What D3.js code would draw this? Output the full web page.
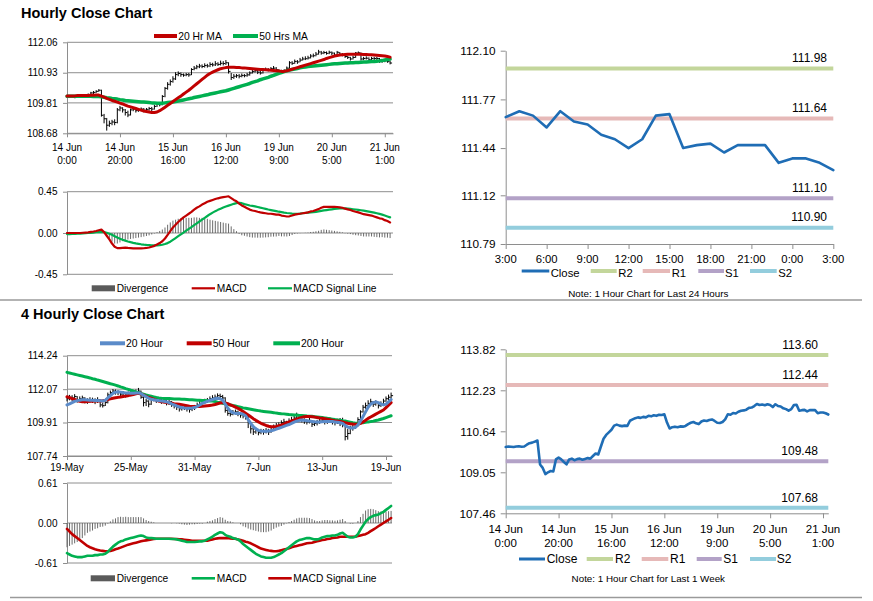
<!DOCTYPE html>
<html><head><meta charset="utf-8">
<script src="https://cdn.jsdelivr.net/npm/d3@7"></script>
<style>body{margin:0;background:#fff}svg{display:block}</style>
</head><body><svg id="chart" width="873" height="601"></svg>
<script>
// ---------------- DATA: hourly (14 Jun 0:00 .. 21 Jun 3:00) ----------------
const hourlyClose = [
110.03,110.05,110.04,110.03,110.05,110.06,110.04,110.05,110.12,110.18,
110.20,110.24,110.28,109.35,109.22,108.98,109.05,109.10,109.08,109.55,
109.62,109.55,109.45,109.36,109.55,109.58,109.52,109.56,109.58,109.54,
109.57,109.60,109.58,109.68,109.78,109.74,110.05,110.35,110.50,110.60,
110.70,110.86,110.90,110.86,110.84,110.86,110.85,111.05,111.10,111.15,
111.18,111.16,111.20,111.18,111.24,111.22,111.26,111.24,111.28,111.27,
111.30,110.98,110.75,110.80,110.82,110.80,110.83,110.82,110.85,110.92,
110.97,111.00,110.95,110.92,111.02,111.06,111.04,111.08,111.10,111.04,
110.97,110.96,111.00,111.10,111.30,111.28,111.35,111.33,111.40,111.44,
111.45,111.48,111.55,111.56,111.62,111.70,111.66,111.68,111.65,111.69,
111.66,111.58,111.69,111.62,111.60,111.53,111.50,111.44,111.50,111.66,
111.67,111.44,111.46,111.47,111.41,111.46,111.46,111.46,111.34,111.37,
111.37,111.34,111.29];
const hourlyHigh = [
110.08,110.09,110.08,110.07,110.09,110.10,110.08,110.10,110.16,110.22,
110.25,110.28,110.32,110.30,109.40,109.25,109.15,109.18,109.20,109.62,
109.70,109.65,109.58,109.52,109.60,109.64,109.62,109.62,109.64,109.62,
109.62,109.66,109.66,109.74,109.82,109.84,110.10,110.40,110.58,110.68,
110.80,110.95,110.98,110.94,110.90,110.92,110.92,111.10,111.18,111.22,
111.26,111.24,111.28,111.26,111.32,111.30,111.36,111.32,111.38,111.36,
111.40,111.32,110.92,110.88,110.88,110.88,110.90,110.88,110.92,110.98,
111.04,111.06,111.04,111.00,111.08,111.12,111.10,111.14,111.18,111.14,
111.06,111.04,111.06,111.16,111.36,111.36,111.42,111.40,111.48,111.52,
111.54,111.56,111.62,111.64,111.70,111.78,111.74,111.74,111.72,111.75,
111.72,111.68,111.74,111.70,111.66,111.62,111.56,111.52,111.56,111.70,
111.72,111.68,111.52,111.54,111.50,111.52,111.52,111.52,111.48,111.44,
111.44,111.42,111.38];
const hourlyLow = [
109.99,110.00,110.00,109.98,110.00,110.01,109.99,110.00,110.04,110.10,
110.14,110.18,110.22,109.30,109.05,108.78,108.92,108.98,108.98,109.05,
109.50,109.45,109.34,109.28,109.34,109.50,109.45,109.48,109.50,109.46,
109.50,109.52,109.50,109.56,109.66,109.68,109.72,110.02,110.30,110.45,
110.56,110.66,110.80,110.78,110.78,110.80,110.78,110.84,111.02,111.06,
111.10,111.10,111.12,111.12,111.14,111.16,111.18,111.18,111.20,111.20,
111.22,110.90,110.66,110.70,110.74,110.72,110.76,110.76,110.78,110.82,
110.90,110.94,110.88,110.86,110.90,111.00,110.98,111.02,111.04,110.96,
110.90,110.90,110.94,110.98,111.08,111.22,111.26,111.26,111.32,111.38,
111.40,111.42,111.46,111.50,111.54,111.60,111.60,111.62,111.60,111.62,
111.58,111.52,111.56,111.56,111.54,111.48,111.44,111.38,111.42,111.48,
111.60,111.38,111.40,111.42,111.36,111.38,111.40,111.40,111.30,111.30,
111.32,111.30,111.24];
const hourlyMA20 = [
110.07,110.07,110.07,110.07,110.08,110.08,110.08,110.08,110.08,110.09,
110.09,110.10,110.10,110.06,110.02,109.98,109.94,109.90,109.87,109.84,
109.80,109.77,109.73,109.69,109.66,109.63,109.60,109.57,109.54,109.51,
109.49,109.47,109.45,109.45,109.47,109.52,109.58,109.65,109.72,109.79,
109.86,109.93,110.00,110.06,110.14,110.21,110.28,110.36,110.44,110.52,
110.60,110.68,110.76,110.84,110.90,110.95,111.00,111.04,111.08,111.10,
111.12,111.13,111.13,111.13,111.12,111.12,111.11,111.11,111.10,111.09,
111.08,111.07,111.06,111.05,111.05,111.04,111.03,111.02,111.01,111.00,
110.99,110.98,110.98,111.00,111.03,111.06,111.09,111.12,111.15,111.18,
111.21,111.24,111.27,111.30,111.33,111.36,111.39,111.42,111.46,111.49,
111.52,111.55,111.57,111.59,111.60,111.61,111.62,111.62,111.62,111.62,
111.62,111.62,111.61,111.61,111.60,111.60,111.59,111.58,111.57,111.56,
111.55,111.53,111.51];
const hourlyMA50 = [
110.06,110.06,110.06,110.06,110.06,110.06,110.06,110.06,110.06,110.06,
110.05,110.05,110.05,110.04,110.02,110.00,109.99,109.97,109.96,109.95,
109.93,109.92,109.90,109.89,109.88,109.87,109.86,109.85,109.84,109.84,
109.83,109.82,109.81,109.81,109.80,109.80,109.80,109.81,109.82,109.83,
109.84,109.86,109.88,109.90,109.92,109.94,109.96,109.98,110.01,110.03,
110.05,110.07,110.09,110.11,110.14,110.16,110.18,110.20,110.22,110.24,
110.26,110.29,110.32,110.35,110.38,110.41,110.44,110.47,110.50,110.53,
110.57,110.60,110.63,110.67,110.70,110.73,110.76,110.80,110.83,110.87,
110.91,110.94,110.97,111.00,111.03,111.05,111.07,111.09,111.11,111.13,
111.14,111.16,111.17,111.18,111.19,111.20,111.21,111.22,111.23,111.24,
111.25,111.26,111.26,111.27,111.28,111.29,111.29,111.30,111.30,111.31,
111.31,111.32,111.33,111.33,111.34,111.35,111.35,111.36,111.37,111.38,
111.40,111.42,111.44];
const hourlyMACD = [
0,0,0,0,0,0,0.003,0.005,0.007,0.012,
0.016,0.022,0.030,0.037,0.010,-0.030,-0.070,-0.115,-0.150,-0.165,
-0.165,-0.162,-0.160,-0.163,-0.165,-0.167,-0.168,-0.168,-0.168,-0.166,
-0.163,-0.158,-0.150,-0.140,-0.125,-0.110,-0.090,-0.060,-0.020,0.020,
0.060,0.090,0.120,0.145,0.170,0.190,0.210,0.230,0.255,0.275,
0.290,0.310,0.325,0.340,0.350,0.360,0.370,0.378,0.385,0.390,
0.395,0.400,0.380,0.360,0.345,0.320,0.300,0.285,0.270,0.255,
0.245,0.240,0.232,0.225,0.220,0.215,0.210,0.210,0.205,0.200,
0.200,0.190,0.185,0.180,0.182,0.190,0.200,0.205,0.210,0.215,
0.220,0.225,0.235,0.240,0.250,0.260,0.275,0.285,0.285,0.285,
0.285,0.285,0.283,0.280,0.275,0.265,0.258,0.250,0.240,0.232,
0.225,0.215,0.205,0.200,0.195,0.190,0.180,0.170,0.160,0.155,
0.140,0.130,0.115];
const hourlySignal = [
-0.012,-0.012,-0.010,-0.010,-0.008,-0.006,-0.004,-0.002,0,0.002,
0.005,0.008,0.010,0.012,0.010,0.003,-0.008,-0.020,-0.035,-0.050,
-0.062,-0.073,-0.083,-0.092,-0.100,-0.107,-0.113,-0.118,-0.123,-0.127,
-0.130,-0.132,-0.134,-0.135,-0.134,-0.132,-0.128,-0.120,-0.110,-0.095,
-0.075,-0.055,-0.035,-0.015,0.005,0.025,0.045,0.065,0.085,0.105,
0.125,0.145,0.165,0.185,0.205,0.222,0.238,0.252,0.265,0.277,
0.288,0.298,0.308,0.318,0.325,0.330,0.325,0.315,0.308,0.300,
0.295,0.290,0.283,0.276,0.270,0.263,0.256,0.250,0.244,0.238,
0.232,0.227,0.222,0.218,0.215,0.212,0.210,0.210,0.212,0.215,
0.218,0.221,0.224,0.227,0.231,0.236,0.241,0.246,0.250,0.254,
0.258,0.262,0.265,0.267,0.268,0.268,0.265,0.262,0.259,0.256,
0.252,0.248,0.243,0.238,0.233,0.228,0.222,0.215,0.208,0.200,
0.190,0.180,0.170];
const hourlyDivergence = [
0.012,0.012,0.010,0.010,0.008,0.006,0.007,0.007,0.007,0.010,
0.011,0.014,0.020,0.025,0,-0.033,-0.062,-0.095,-0.115,-0.115,
-0.103,-0.089,-0.077,-0.071,-0.065,-0.060,-0.055,-0.050,-0.045,-0.039,
-0.033,-0.026,-0.016,-0.005,0.009,0.022,0.038,0.060,0.090,0.115,
0.135,0.145,0.155,0.160,0.165,0.165,0.165,0.165,0.170,0.170,
0.165,0.165,0.160,0.155,0.145,0.138,0.132,0.126,0.120,0.113,
0.107,0.102,0.072,0.042,0.020,-0.010,-0.025,-0.030,-0.038,-0.045,
-0.050,-0.050,-0.051,-0.051,-0.050,-0.048,-0.046,-0.040,-0.039,-0.038,
-0.032,-0.037,-0.037,-0.038,-0.033,-0.022,-0.010,-0.005,-0.002,0,
0.002,0.004,0.011,0.013,0.019,0.024,0.034,0.039,0.035,0.031,
0.027,0.023,0.018,0.013,0.007,-0.003,-0.007,-0.012,-0.019,-0.024,
-0.027,-0.033,-0.038,-0.038,-0.038,-0.038,-0.042,-0.045,-0.048,-0.045,
-0.050,-0.050,-0.055];
const hourlyTickIndex = [0,20,40,60,80,100,120];
const hourlyTickLabels = [["14 Jun","0:00"],["14 Jun","20:00"],["15 Jun","16:00"],["16 Jun","12:00"],["19 Jun","9:00"],["20 Jun","5:00"],["21 Jun","1:00"]];
const hourlyPriceTicks = ["108.68","109.81","110.93","112.06"];
const hourlyMacdTicks = ["-0.45","0.00","0.45"];

// last 24 hours (= last 25 hourly closes)
const last24Start = 98;
const last24TickIndex = [0,3,6,9,12,15,18,21,24];
const last24TickLabels = ["3:00","6:00","9:00","12:00","15:00","18:00","21:00","0:00","3:00"];
const last24PriceTicks = ["110.79","111.12","111.44","111.77","112.10"];
const weekPriceTicks = ["107.46","109.05","110.64","112.23","113.82"];
const levelNames = ["R2","R1","S1","S2"];
const levels24 = [111.98,111.64,111.10,110.90];
const levelsWeek = [113.60,112.44,109.48,107.68];

// ---------------- DATA: 4 hourly (19 May .. 19 Jun) ----------------
const fourClose = [
111.45,111.55,111.50,111.60,111.40,111.45,111.50,111.35,111.30,111.40,
111.35,111.30,111.38,111.05,111.00,111.20,111.70,111.85,111.95,111.90,
111.85,111.75,111.80,111.70,111.78,111.80,111.85,111.90,111.95,111.55,
111.20,111.30,111.10,111.40,111.45,111.35,111.40,111.30,111.35,111.20,
111.25,111.10,111.00,110.90,110.80,110.85,110.90,110.80,110.75,110.85,
110.90,111.05,111.15,111.20,111.30,111.35,111.45,111.50,111.55,111.65,
111.60,111.50,110.70,110.50,110.45,110.55,110.60,110.50,110.40,110.35,
110.30,109.90,109.50,109.30,109.40,109.25,109.35,109.30,109.40,109.30,
109.45,109.60,109.70,109.75,109.90,109.95,109.85,110.00,110.10,110.20,
110.35,110.15,110.10,110.00,109.95,110.05,109.80,109.85,109.90,110.00,
110.05,109.95,110.00,110.05,109.95,109.90,110.00,109.85,109.80,109.00,
109.20,109.60,109.55,109.70,110.10,110.60,110.90,111.00,111.15,111.25,
111.10,111.20,111.00,111.10,111.30,111.45,111.55,111.65];
const fourHigh = [
111.62,111.70,111.68,111.75,111.62,111.60,111.65,111.55,111.48,111.55,
111.52,111.48,111.55,111.40,111.20,111.40,111.85,111.98,112.08,112.05,
112.00,111.92,111.95,111.88,111.92,111.96,112.00,112.05,112.15,111.98,
111.60,111.45,111.35,111.55,111.62,111.52,111.55,111.48,111.50,111.40,
111.38,111.30,111.15,111.08,110.98,111.00,111.05,110.98,110.92,111.00,
111.05,111.20,111.30,111.35,111.45,111.50,111.60,111.68,111.72,111.80,
111.78,111.70,111.55,110.80,110.65,110.72,110.75,110.68,110.58,110.52,
110.48,110.35,109.95,109.60,109.58,109.48,109.50,109.48,109.55,109.50,
109.62,109.78,109.88,109.92,110.05,110.15,110.02,110.18,110.28,110.40,
110.55,110.40,110.25,110.18,110.12,110.22,110.05,110.02,110.08,110.18,
110.22,110.15,110.18,110.25,110.12,110.10,110.15,110.20,110.22,109.90,
109.50,109.70,109.75,109.85,110.25,110.70,111.05,111.20,111.35,111.45,
111.30,111.35,111.20,111.28,111.45,111.60,111.72,111.85];
const fourLow = [
111.28,111.35,111.30,111.42,111.20,111.28,111.30,111.15,111.12,111.20,
111.18,111.10,111.18,110.90,110.88,110.98,111.15,111.65,111.78,111.72,
111.68,111.58,111.62,111.52,111.60,111.62,111.68,111.72,111.78,111.45,
110.95,110.98,110.90,111.05,111.28,111.18,111.22,111.12,111.15,111.02,
111.05,110.92,110.82,110.72,110.62,110.68,110.72,110.62,110.55,110.65,
110.72,110.85,110.98,111.02,111.12,111.18,111.28,111.32,111.38,111.45,
111.42,111.30,110.55,110.35,110.30,110.38,110.42,110.32,110.22,110.18,
110.10,109.55,109.20,109.10,109.18,109.08,109.15,109.12,109.20,109.10,
109.25,109.42,109.52,109.58,109.70,109.78,109.68,109.80,109.92,110.02,
110.15,109.98,109.92,109.82,109.78,109.85,109.62,109.68,109.72,109.82,
109.88,109.78,109.82,109.88,109.78,109.72,109.82,109.68,109.60,108.75,
108.80,109.15,109.38,109.50,109.65,110.05,110.55,110.80,110.95,111.05,
110.92,111.00,110.82,110.92,111.10,111.25,111.35,111.45];
const fourMA20 = [
111.05,111.12,111.20,111.28,111.33,111.36,111.38,111.38,111.37,111.36,
111.35,111.34,111.33,111.32,111.30,111.35,111.50,111.65,111.80,111.88,
111.90,111.88,111.85,111.83,111.82,111.80,111.80,111.82,111.83,111.78,
111.68,111.58,111.48,111.42,111.38,111.35,111.33,111.30,111.28,111.25,
111.20,111.12,111.05,110.98,110.92,110.88,110.85,110.84,110.84,110.85,
110.88,110.95,111.05,111.15,111.22,111.28,111.34,111.40,111.45,111.48,
111.45,111.35,111.10,110.85,110.65,110.55,110.50,110.50,110.50,110.45,
110.35,110.10,109.85,109.65,109.50,109.40,109.36,109.34,109.34,109.36,
109.38,109.42,109.48,109.54,109.60,109.66,109.72,109.78,109.85,109.93,
110.00,110.05,110.07,110.05,110.02,110.00,109.98,109.96,109.95,109.95,
109.96,109.97,109.98,109.98,109.97,109.95,109.93,109.90,109.85,109.72,
109.62,109.56,109.55,109.60,109.75,110.00,110.30,110.60,110.90,111.10,
111.20,111.25,111.20,111.10,111.05,111.10,111.25,111.40];
const fourMA50 = [
111.58,111.52,111.46,111.40,111.34,111.29,111.26,111.26,111.27,111.28,
111.29,111.30,111.31,111.31,111.32,111.35,111.40,111.44,111.48,111.51,
111.54,111.57,111.60,111.63,111.65,111.69,111.73,111.77,111.80,111.76,
111.68,111.60,111.53,111.48,111.42,111.36,111.30,111.26,111.23,111.20,
111.18,111.16,111.13,111.11,111.09,111.06,111.03,111.00,110.97,110.95,
110.94,110.94,110.95,110.96,110.98,111.00,111.02,111.04,111.08,111.13,
111.17,111.20,111.18,111.13,111.06,110.99,110.91,110.83,110.73,110.62,
110.51,110.40,110.28,110.16,110.05,109.95,109.86,109.79,109.72,109.67,
109.64,109.64,109.66,109.70,109.75,109.81,109.88,109.95,110.01,110.07,
110.13,110.19,110.24,110.29,110.30,110.30,110.28,110.26,110.23,110.20,
110.18,110.15,110.12,110.09,110.06,110.03,110.01,109.98,109.95,109.90,
109.86,109.83,109.81,109.80,109.79,109.85,109.95,110.06,110.18,110.27,
110.36,110.45,110.54,110.63,110.72,110.88,111.04,111.20];
const fourMA200 = [
113.16,113.12,113.08,113.04,113.00,112.96,112.92,112.88,112.84,112.80,
112.75,112.71,112.66,112.62,112.57,112.52,112.47,112.42,112.38,112.33,
112.28,112.22,112.17,112.11,112.06,112.00,111.95,111.89,111.84,111.79,
111.74,111.69,111.65,111.61,111.57,111.53,111.50,111.48,111.47,111.46,
111.46,111.45,111.44,111.44,111.43,111.42,111.41,111.40,111.39,111.38,
111.37,111.36,111.35,111.34,111.33,111.32,111.31,111.30,111.27,111.23,
111.20,111.16,111.13,111.09,111.05,111.01,110.98,110.94,110.90,110.86,
110.83,110.80,110.77,110.74,110.71,110.68,110.65,110.63,110.61,110.59,
110.57,110.55,110.52,110.50,110.48,110.47,110.45,110.43,110.42,110.40,
110.39,110.37,110.36,110.35,110.33,110.32,110.31,110.29,110.27,110.25,
110.23,110.21,110.18,110.16,110.13,110.10,110.08,110.06,110.03,110.01,
109.97,109.93,109.89,109.86,109.87,109.89,109.90,109.92,109.95,109.97,
110.00,110.04,110.07,110.12,110.17,110.23,110.29,110.35];
const fourMACD = [
-0.46,-0.48,-0.50,-0.51,-0.52,-0.52,-0.52,-0.51,-0.50,-0.50,
-0.50,-0.49,-0.49,-0.48,-0.48,-0.47,-0.44,-0.40,-0.36,-0.33,
-0.30,-0.28,-0.27,-0.25,-0.24,-0.23,-0.22,-0.21,-0.20,-0.19,
-0.20,-0.22,-0.23,-0.23,-0.235,-0.24,-0.24,-0.24,-0.24,-0.24,
-0.24,-0.245,-0.245,-0.25,-0.26,-0.27,-0.28,-0.29,-0.29,-0.29,
-0.29,-0.285,-0.28,-0.28,-0.27,-0.25,-0.23,-0.21,-0.18,-0.16,
-0.14,-0.15,-0.18,-0.20,-0.21,-0.23,-0.24,-0.25,-0.28,-0.32,
-0.35,-0.38,-0.41,-0.44,-0.47,-0.49,-0.51,-0.52,-0.53,-0.53,
-0.53,-0.52,-0.50,-0.48,-0.46,-0.43,-0.40,-0.37,-0.34,-0.31,
-0.28,-0.26,-0.25,-0.24,-0.23,-0.23,-0.24,-0.25,-0.25,-0.24,
-0.22,-0.21,-0.20,-0.20,-0.19,-0.19,-0.18,-0.16,-0.15,-0.18,
-0.21,-0.22,-0.22,-0.21,-0.17,-0.10,-0.04,0.02,0.06,0.09,
0.11,0.12,0.13,0.15,0.17,0.20,0.23,0.26];
const fourSignal = [
-0.09,-0.13,-0.17,-0.20,-0.23,-0.26,-0.29,-0.32,-0.35,-0.37,
-0.385,-0.40,-0.41,-0.42,-0.425,-0.43,-0.43,-0.425,-0.415,-0.40,
-0.39,-0.375,-0.36,-0.345,-0.33,-0.32,-0.31,-0.30,-0.29,-0.28,
-0.27,-0.265,-0.26,-0.25,-0.245,-0.24,-0.24,-0.24,-0.24,-0.24,
-0.24,-0.24,-0.245,-0.245,-0.25,-0.25,-0.255,-0.26,-0.265,-0.27,
-0.27,-0.27,-0.27,-0.27,-0.27,-0.27,-0.26,-0.25,-0.24,-0.235,
-0.23,-0.23,-0.23,-0.23,-0.235,-0.24,-0.24,-0.25,-0.26,-0.27,
-0.285,-0.295,-0.31,-0.33,-0.35,-0.37,-0.39,-0.40,-0.41,-0.42,
-0.425,-0.43,-0.43,-0.425,-0.415,-0.405,-0.395,-0.385,-0.37,-0.36,
-0.35,-0.34,-0.33,-0.32,-0.31,-0.305,-0.30,-0.29,-0.28,-0.27,
-0.26,-0.255,-0.245,-0.24,-0.23,-0.225,-0.22,-0.21,-0.21,-0.21,
-0.21,-0.21,-0.21,-0.21,-0.20,-0.19,-0.18,-0.17,-0.15,-0.125,
-0.10,-0.076,-0.05,-0.025,0,0.025,0.05,0.076];
const fourDivergence = [
-0.37,-0.35,-0.33,-0.31,-0.29,-0.26,-0.23,-0.19,-0.15,-0.13,
-0.115,-0.09,-0.08,-0.06,-0.055,-0.04,-0.01,0.025,0.055,0.07,
0.09,0.095,0.09,0.095,0.09,0.09,0.09,0.09,0.09,0.09,
0.07,0.045,0.03,0.02,0.01,0,0,0,0,0,
0,-0.005,0,-0.005,-0.01,-0.02,-0.025,-0.03,-0.025,-0.02,
-0.02,-0.015,-0.01,-0.01,0,0.02,0.03,0.04,0.06,0.075,
0.09,0.08,0.05,0.03,0.025,0.01,0,0,-0.02,-0.05,
-0.065,-0.085,-0.10,-0.11,-0.12,-0.13,-0.14,-0.14,-0.14,-0.13,
-0.115,-0.09,-0.07,-0.055,-0.045,-0.025,-0.005,0.015,0.03,0.05,
0.07,0.08,0.08,0.08,0.08,0.075,0.06,0.04,0.03,0.03,
0.04,0.045,0.045,0.04,0.04,0.035,0.04,0.05,0.06,0.03,
0,-0.01,-0.01,0,0.03,0.09,0.14,0.19,0.21,0.215,
0.21,0.196,0.18,0.175,0.17,0.175,0.18,0.184];
const fourTickIndex = [0,25,50,75,100,125];
const fourTickLabels = ["19-May","25-May","31-May","7-Jun","13-Jun","19-Jun"];
const fourPriceTicks = ["107.74","109.91","112.07","114.24"];
const fourMacdTicks = ["-0.61","0.00","0.61"];

// ---------------- STYLE ----------------
const FONT = '"Liberation Sans", Arial, Helvetica, sans-serif';
const GRID = '#8e8e8e';
const RED = '#c00000', GREEN = '#00b050', BLUE20 = '#5b8bc9', CLOSE = '#1f6db5', DIV = '#5a5a5a';
const LEVEL_COLORS = ['#c3d69b','#e6b9b8','#b3a2c7','#93cddd'];

const svg = d3.select('#chart');
svg.append('rect').attr('width',873).attr('height',601).attr('fill','#fff');

function gridLines(x, y, ticks) {
  svg.append('g').selectAll('line').data(ticks.map(Number)).join('line')
    .attr('x1', x.range()[0]).attr('x2', x.range()[1])
    .attr('y1', d => y(d)).attr('y2', d => y(d))
    .attr('stroke', GRID).attr('stroke-width', 1);
}
function yAxis(x0, y, ticks, fs, ts, pad) {
  const g = svg.append('g').attr('transform', `translate(${x0},0)`)
    .call(d3.axisLeft(y).tickValues(ticks.map(Number)).tickFormat((d, i) => ticks[i])
      .tickSize(ts).tickPadding(pad).tickSizeOuter(0));
  g.attr('font-family', FONT).attr('font-size', fs);
  g.select('.domain').attr('stroke', GRID);
  g.selectAll('.tick line').attr('stroke', GRID);
  g.selectAll('.tick text').attr('fill', '#000');
}
function xAxis(y0, x, idx, ts, labels, baselines, fs) {
  const g = svg.append('g').attr('transform', `translate(0,${y0})`)
    .call(d3.axisBottom(x).tickValues(idx).tickFormat(() => '').tickSize(ts).tickSizeOuter(0));
  g.select('.domain').attr('stroke', GRID);
  g.selectAll('.tick line').attr('stroke', GRID);
  g.selectAll('.tick text').remove();
  if (!labels) return;
  const t = svg.append('g').attr('font-family', FONT).attr('font-size', fs).attr('text-anchor', 'middle');
  idx.forEach((d, k) => {
    const lines = Array.isArray(labels[k]) ? labels[k] : [labels[k]];
    lines.forEach((s, j) => t.append('text').attr('x', x(d)).attr('y', baselines[j]).text(s));
  });
}
function seriesLine(x, y, data, color, w) {
  svg.append('path').datum(data).attr('fill', 'none').attr('stroke', color)
    .attr('stroke-width', w).attr('stroke-linejoin', 'round').attr('stroke-linecap', 'round')
    .attr('d', d3.line().x((d, i) => x(i)).y(d => y(d)));
}
function hiLo(x, y, hi, lo, cl) {
  const g = svg.append('g').attr('stroke', '#000').attr('stroke-width', 1);
  g.selectAll('line.v').data(cl).join('line').attr('class', 'v')
    .attr('x1', (d, i) => x(i)).attr('x2', (d, i) => x(i))
    .attr('y1', (d, i) => y(hi[i])).attr('y2', (d, i) => y(lo[i]));
  g.selectAll('line.c').data(cl).join('line').attr('class', 'c')
    .attr('x1', (d, i) => x(i)).attr('x2', (d, i) => x(i) + 2)
    .attr('y1', d => y(d)).attr('y2', d => y(d));
}
function divBars(x, y, data) {
  svg.append('g').selectAll('line').data(data).join('line')
    .attr('x1', (d, i) => x(i)).attr('x2', (d, i) => x(i))
    .attr('y1', y(0)).attr('y2', d => y(d))
    .attr('stroke', DIV).attr('stroke-width', 0.9);
}
function legendLine(x1, x2, yc, color, w, label, tx, fs, ty) {
  svg.append('line').attr('x1', x1).attr('x2', x2).attr('y1', yc).attr('y2', yc)
    .attr('stroke', color).attr('stroke-width', w);
  svg.append('text').attr('x', tx).attr('y', ty !== undefined ? ty : yc + fs * 0.36).attr('font-family', FONT)
    .attr('font-size', fs).text(label);
}
function legendRect(x1, x2, yc, color, label, tx, fs) {
  svg.append('rect').attr('x', x1).attr('y', yc - 3).attr('width', x2 - x1).attr('height', 6).attr('fill', color);
  svg.append('text').attr('x', tx).attr('y', yc + fs * 0.36).attr('font-family', FONT)
    .attr('font-size', fs).text(label);
}
function levelLines(x, y, vals, labelRight, dy, fs) {
  vals.forEach((v, k) => {
    svg.append('line').attr('x1', x.range()[0]).attr('x2', x.range()[1])
      .attr('y1', y(v)).attr('y2', y(v)).attr('stroke', LEVEL_COLORS[k]).attr('stroke-width', 4);
    svg.append('text').attr('x', labelRight).attr('y', y(v) - dy).attr('text-anchor', 'end')
      .attr('font-family', FONT).attr('font-size', fs).text(v.toFixed(2));
  });
}
function title(txt, y) {
  svg.append('text').attr('x', 21).attr('y', y).attr('font-family', FONT)
    .attr('font-size', 14.5).attr('font-weight', 'bold').text(txt);
}

// ---------------- PANEL A: hourly price ----------------
title('Hourly Close Chart', 18);
const xA = d3.scaleLinear().domain([0, 123.1]).range([67, 393]);
const yA = d3.scaleLinear().domain([+hourlyPriceTicks[0], +hourlyPriceTicks[3]]).range([133.3, 42.3]);
gridLines(xA, yA, hourlyPriceTicks);
yAxis(67, yA, hourlyPriceTicks, 10, 4, 5.5);
xAxis(133.3, xA, hourlyTickIndex, 4, hourlyTickLabels, [151.3, 164.3], 10);
hiLo(xA, yA, hourlyHigh, hourlyLow, hourlyClose);
seriesLine(xA, yA, hourlyMA50, GREEN, 3.5);
seriesLine(xA, yA, hourlyMA20, RED, 3);
legendLine(154, 177, 36, RED, 4, '20 Hr MA', 178.3, 10.3);
legendLine(233, 258, 36, GREEN, 4, '50 Hrs MA', 259.3, 10.3);

// ---------------- PANEL B: hourly MACD ----------------
const yB = d3.scaleLinear().domain([+hourlyMacdTicks[0], +hourlyMacdTicks[2]]).range([274.3, 191.7]);
gridLines(xA, yB, hourlyMacdTicks);
yAxis(67, yB, hourlyMacdTicks, 10, 4, 5.5);
divBars(xA, yB, hourlyDivergence);
seriesLine(xA, yB, hourlySignal, GREEN, 2.2);
seriesLine(xA, yB, hourlyMACD, RED, 2.2);
legendRect(91.7, 115, 288.3, DIV, 'Divergence', 116.7, 10.2);
legendLine(191.7, 215, 288.3, RED, 2.2, 'MACD', 216.7, 10.2);
legendLine(268, 292, 288.3, GREEN, 2.2, 'MACD Signal Line', 293.3, 10.2);

// ---------------- PANEL C: last 24 hours ----------------
const last24 = hourlyClose.slice(last24Start);
const xC = d3.scaleLinear().domain([0, last24.length - 1]).range([505.7, 833.3]);
const yC = d3.scaleLinear().domain([+last24PriceTicks[0], +last24PriceTicks[4]]).range([244, 50.7]);
yAxis(505.7, yC, last24PriceTicks, 11.8, 5, 5.2);
xAxis(244, xC, last24TickIndex, 5, last24TickLabels, [263.2], 11.3);
levelLines(xC, yC, levels24, 827, 6.5, 12);
seriesLine(xC, yC, last24, CLOSE, 2.6);
legendLine(521.7, 549.3, 271, CLOSE, 3, 'Close', 550.7, 11.3, 277);
levelNames.forEach((n, k) => {
  const pos = [[590.7, 616.7, 618.3], [642.7, 670, 671.7], [698.3, 724, 725], [750, 776.7, 778.3]][k];
  legendLine(pos[0], pos[1], 271, LEVEL_COLORS[k], 4, n, pos[2], 11.3, 277);
});
svg.append('text').attr('x', 648.3).attr('y', 296.5).attr('text-anchor', 'middle')
  .attr('font-family', FONT).attr('font-size', 9.8).text('Note: 1 Hour Chart for Last 24 Hours');

// separators
svg.append('line').attr('x1', 0).attr('x2', 862).attr('y1', 300).attr('y2', 300).attr('stroke', '#9a9a9a').attr('stroke-width', 1.5);
svg.append('line').attr('x1', 10).attr('x2', 862).attr('y1', 597.5).attr('y2', 597.5).attr('stroke', '#9a9a9a').attr('stroke-width', 1.5);

// ---------------- PANEL D: 4 hourly price ----------------
title('4 Hourly Close Chart', 318.5);
const xD = d3.scaleLinear().domain([0, 127.35]).range([67, 392]);
const yD = d3.scaleLinear().domain([+fourPriceTicks[0], +fourPriceTicks[3]]).range([456, 355.7]);
gridLines(xD, yD, fourPriceTicks);
yAxis(67, yD, fourPriceTicks, 10, 4, 5.5);
xAxis(456, xD, fourTickIndex, 4, fourTickLabels, [470.5], 10);
hiLo(xD, yD, fourHigh, fourLow, fourClose);
seriesLine(xD, yD, fourMA200, GREEN, 3);
seriesLine(xD, yD, fourMA50, RED, 3);
seriesLine(xD, yD, fourMA20, BLUE20, 3);
legendLine(100, 125, 343.3, BLUE20, 4, '20 Hour', 126, 10.4);
legendLine(186.7, 211.7, 343.3, RED, 4, '50 Hour', 212.7, 10.4);
legendLine(273.3, 300, 343.3, GREEN, 4, '200 Hour', 301, 10.4);

// ---------------- PANEL E: 4 hourly MACD ----------------
const yE = d3.scaleLinear().domain([+fourMacdTicks[0], +fourMacdTicks[2]]).range([563, 483]);
gridLines(xD, yE, fourMacdTicks);
yAxis(67, yE, fourMacdTicks, 10, 4, 5.5);
divBars(xD, yE, fourDivergence);
seriesLine(xD, yE, fourSignal, RED, 2.6);
seriesLine(xD, yE, fourMACD, GREEN, 2.6);
legendRect(90.7, 115, 578.3, DIV, 'Divergence', 116.7, 10.2);
legendLine(191.7, 215, 578.3, GREEN, 2.6, 'MACD', 216.7, 10.2);
legendLine(268.3, 291.7, 578.3, RED, 2.6, 'MACD Signal Line', 293.3, 10.2);

// ---------------- PANEL F: last 1 week ----------------
const xF = d3.scaleLinear().domain([0, hourlyClose.length - 1]).range([505.7, 828.3]);
const yF = d3.scaleLinear().domain([+weekPriceTicks[0], +weekPriceTicks[4]]).range([513.3, 349.3]);
yAxis(505.7, yF, weekPriceTicks, 11.8, 5, 5.2);
xAxis(513.3, xF, hourlyTickIndex, 5, hourlyTickLabels, [533.3, 547], 11.5);
levelLines(xF, yF, levelsWeek, 818, 6, 12);
seriesLine(xF, yF, hourlyClose, CLOSE, 2.6);
legendLine(519, 545, 559, CLOSE, 3, 'Close', 546.7, 12);
levelNames.forEach((n, k) => {
  const pos = [[586.7, 613, 615], [641.7, 668.3, 670], [696.7, 721.7, 723.3], [750, 776, 776.7]][k];
  legendLine(pos[0], pos[1], 559, LEVEL_COLORS[k], 4, n, pos[2], 12);
});
svg.append('text').attr('x', 648.3).attr('y', 581.5).attr('text-anchor', 'middle')
  .attr('font-family', FONT).attr('font-size', 9.8).text('Note: 1 Hour Chart for Last 1 Week');
</script></body></html>
